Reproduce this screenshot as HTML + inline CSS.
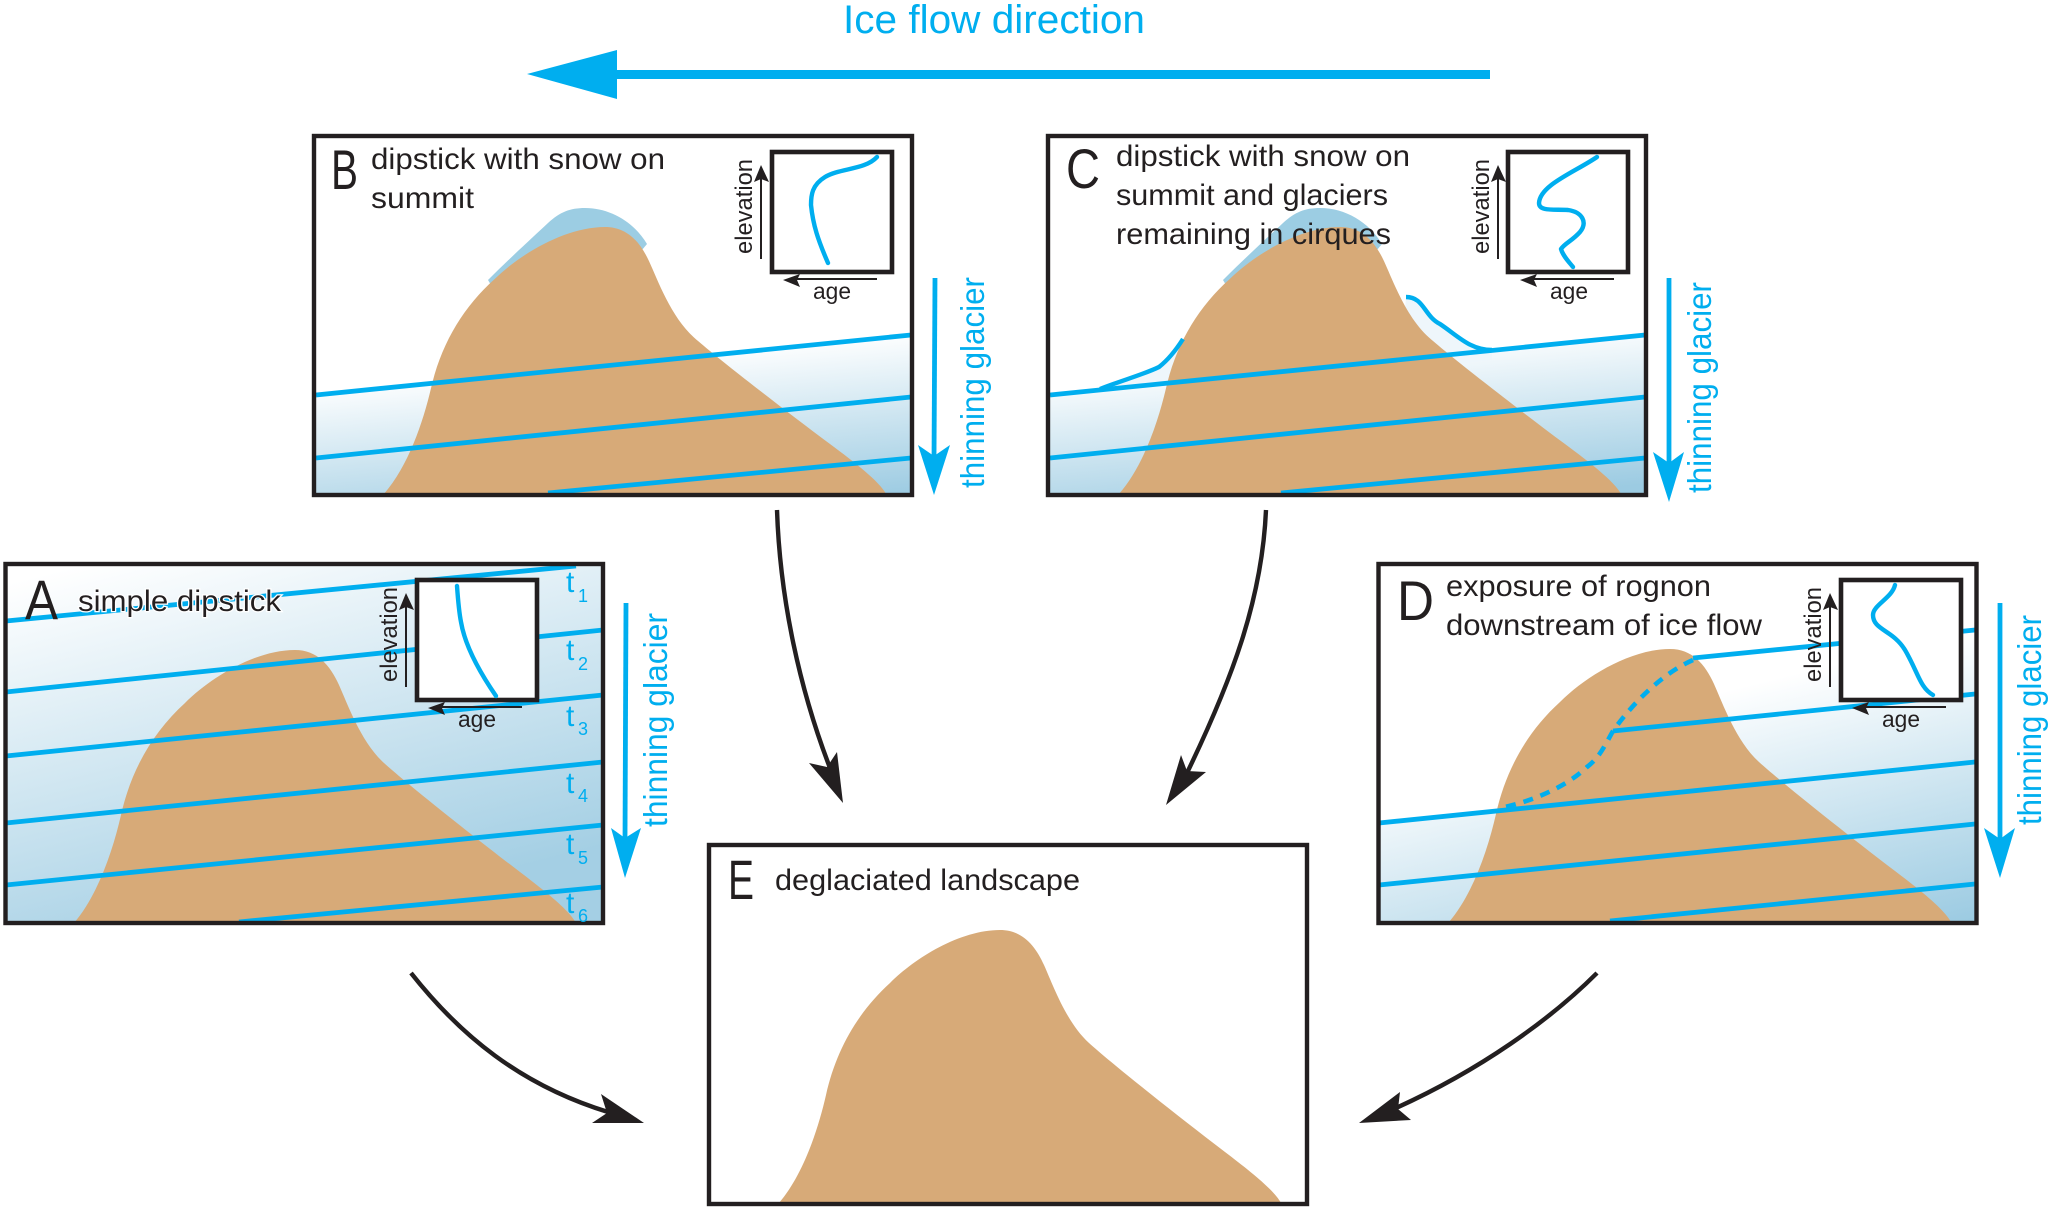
<!DOCTYPE html>
<html>
<head>
<meta charset="utf-8">
<title>Ice flow diagram</title>
<style>
html,body{margin:0;padding:0;background:#fff;width:2050px;height:1209px;overflow:hidden}
svg{display:block}
text{font-family:"Liberation Sans",sans-serif;fill:#231f20}
.b{fill:#00aeef}
.l{stroke:#00aeef;stroke-width:4.8;fill:none}
.c{stroke:#00aeef;stroke-width:4.4;fill:none;stroke-linecap:round;stroke-linejoin:round}
.k{stroke:#231f20;stroke-width:4.4;fill:none}
.a{stroke:#231f20;stroke-width:2;fill:none}
.m{fill:#d7aa78}
</style>
</head>
<body>
<svg width="2050" height="1209" viewBox="0 0 2050 1209" xmlns="http://www.w3.org/2000/svg">
<defs>
<linearGradient id="gA" gradientUnits="userSpaceOnUse" x1="100" y1="560" x2="200" y2="950"><stop offset="0" stop-color="#fff"/><stop offset="1" stop-color="#a4cfe4"/></linearGradient>
<linearGradient id="gB" gradientUnits="userSpaceOnUse" x1="316" y1="385" x2="331" y2="548"><stop offset="0" stop-color="#fff"/><stop offset="1" stop-color="#9ccbe2"/></linearGradient>
<linearGradient id="gC" gradientUnits="userSpaceOnUse" x1="1050" y1="375" x2="1065" y2="538"><stop offset="0" stop-color="#fff"/><stop offset="1" stop-color="#9ccbe2"/></linearGradient>
<linearGradient id="gD" gradientUnits="userSpaceOnUse" x1="1970" y1="631" x2="2037" y2="904"><stop offset="0" stop-color="#fff"/><stop offset="1" stop-color="#9ccbe2"/></linearGradient>
<path id="mt" d="M779 1203C803 1175 818 1130 826 1095C836 1050 858 1012 890 983C915 958 960 930 1000 930C1022 930 1035 945 1044 965C1053 985 1066 1022 1089 1043C1110 1062 1170 1110 1225 1152C1250 1171 1274 1190 1281 1203Z"/>
</defs>
<rect width="2050" height="1209" fill="#fff"/>

<!-- top arrow -->
<text x="843" y="33" font-size="40" style="fill:#00aeef" textLength="302" lengthAdjust="spacingAndGlyphs">Ice flow direction</text>
<rect class="b" x="610" y="70" width="880" height="9"/>
<polygon class="b" points="527,74 617,50 617,99"/>

<!-- PANEL A -->
<rect x="6" y="565" width="597" height="358" fill="url(#gA)"/>
<use href="#mt" class="m" transform="translate(-705,-280)"/>
<g class="l">
<line x1="6" y1="621" x2="576" y2="566"/>
<line x1="6" y1="692" x2="603" y2="630"/>
<line x1="6" y1="756" x2="603" y2="695"/>
<line x1="6" y1="823" x2="603" y2="762"/>
<line x1="6" y1="885" x2="603" y2="825"/>
<line x1="239" y1="922" x2="603" y2="887"/>
</g>
<rect class="k" x="5.5" y="564" width="597.5" height="359"/>
<g style="font-size:30px">
<text x="566" y="592" style="fill:#00aeef">t</text><text x="578" y="602" font-size="18" style="fill:#00aeef">1</text>
<text x="566" y="660" style="fill:#00aeef">t</text><text x="578" y="670" font-size="18" style="fill:#00aeef">2</text>
<text x="566" y="726" style="fill:#00aeef">t</text><text x="578" y="735" font-size="18" style="fill:#00aeef">3</text>
<text x="566" y="793" style="fill:#00aeef">t</text><text x="578" y="802" font-size="18" style="fill:#00aeef">4</text>
<text x="566" y="854" style="fill:#00aeef">t</text><text x="578" y="864" font-size="18" style="fill:#00aeef">5</text>
<text x="566" y="913" style="fill:#00aeef">t</text><text x="578" y="922" font-size="18" style="fill:#00aeef">6</text>
</g>
<text x="25" y="619" font-size="56" textLength="33" lengthAdjust="spacingAndGlyphs">A</text>
<text x="78" y="611" font-size="30" textLength="203" lengthAdjust="spacingAndGlyphs" style="stroke:#fff;stroke-width:2.5;paint-order:stroke">simple dipstick</text>

<!-- inset A -->
<g>
<rect x="417" y="580" width="120" height="120" fill="#fff" stroke="#231f20" stroke-width="4.6"/>
<path class="c" d="M457 586C458 600 459 612 461 622C464 640 474 664 496 696"/>
<line class="a" x1="406" y1="687" x2="406" y2="605"/><polygon fill="#231f20" points="406,593 414,610 406,607 399,610"/>
<line class="a" x1="522" y1="707" x2="440" y2="707"/><polygon fill="#231f20" points="428,708 445,702 442,708 445,715"/>
<text x="458" y="727" font-size="23" textLength="38" lengthAdjust="spacingAndGlyphs">age</text>
<text transform="translate(397,682) rotate(-90)" font-size="24" textLength="95" lengthAdjust="spacingAndGlyphs">elevation</text>
</g>
<!-- thin A -->
<line class="l" x1="626" y1="603" x2="625" y2="840"/>
<polygon class="b" points="611,828 625,838 641,828 625,878"/>
<text transform="translate(667,827) rotate(-90)" font-size="33" style="fill:#00aeef" textLength="214" lengthAdjust="spacingAndGlyphs">thinning glacier</text>

<!-- PANEL B -->
<polygon points="316,395 911,335 911,494 316,494" fill="url(#gB)"/>
<path d="M488 280C510 258 532 238 548 223C560 212 570 208 585 208C610 208 634 222 647 244L600 300L500 300Z" fill="#9ccde3"/>
<use href="#mt" class="m" transform="translate(-395,-682.6) scale(1,.978)"/>
<g class="l">
<line x1="316" y1="395" x2="911" y2="335"/>
<line x1="316" y1="458" x2="911" y2="397"/>
<line x1="548" y1="493" x2="911" y2="458"/>
</g>
<rect class="k" x="314" y="136" width="598" height="359"/>
<text x="331" y="189" font-size="56" textLength="27" lengthAdjust="spacingAndGlyphs">B</text>
<text x="371" y="169" font-size="30" textLength="294" lengthAdjust="spacingAndGlyphs">dipstick with snow on</text>
<text x="371" y="208" font-size="30" textLength="103" lengthAdjust="spacingAndGlyphs">summit</text>
<g transform="translate(355,-428)">
<rect x="417" y="580" width="120" height="120" fill="#fff" stroke="#231f20" stroke-width="4.6"/>
<line class="a" x1="406" y1="687" x2="406" y2="605"/><polygon fill="#231f20" points="406,593 414,610 406,607 399,610"/>
<line class="a" x1="522" y1="707" x2="440" y2="707"/><polygon fill="#231f20" points="428,708 445,702 442,708 445,715"/>
<text x="458" y="727" font-size="23" textLength="38" lengthAdjust="spacingAndGlyphs">age</text>
<text transform="translate(397,682) rotate(-90)" font-size="24" textLength="95" lengthAdjust="spacingAndGlyphs">elevation</text>
</g>
<path class="c" d="M877 157C865 170 840 168 825 177C812 185 811 195 811 205C813 225 818 240 828 263"/>
<line class="l" x1="935" y1="278" x2="934" y2="460"/>
<polygon class="b" points="918,445 934,456 950,445 934,495"/>
<text transform="translate(984,488) rotate(-90)" font-size="33" style="fill:#00aeef" textLength="211" lengthAdjust="spacingAndGlyphs">thinning glacier</text>

<!-- PANEL C -->
<polygon points="1050,395 1645,335 1645,494 1050,494" fill="url(#gC)"/>
<path d="M1100 389C1120 381 1145 374 1159 367C1168 360 1176 350 1183 339L1183 385Z" fill="#eef6fb"/>
<path d="M1406 297C1424 297 1424 316 1440 324C1458 336 1470 350 1492 350L1492 360L1400 370Z" fill="#eef6fb"/>
<path d="M1223 280C1245 258 1267 238 1283 223C1295 212 1305 208 1320 208C1345 208 1369 222 1382 244L1335 300L1235 300Z" fill="#9ccde3"/>
<use href="#mt" class="m" transform="translate(340,-682.6) scale(1,.978)"/>
<path class="c" style="stroke-linecap:butt" d="M1100 389C1120 381 1145 374 1159 367C1168 360 1176 350 1183 339"/>
<path class="c" style="stroke-linecap:butt" d="M1406 297C1424 297 1424 316 1440 324C1458 336 1470 350 1492 350"/>
<g class="l">
<line x1="1050" y1="395" x2="1645" y2="335"/>
<line x1="1050" y1="458" x2="1645" y2="397"/>
<line x1="1281" y1="493" x2="1645" y2="458"/>
</g>
<rect class="k" x="1048" y="136" width="598" height="359"/>
<text x="1066" y="188" font-size="56" textLength="34" lengthAdjust="spacingAndGlyphs">C</text>
<text x="1116" y="166" font-size="30" textLength="294" lengthAdjust="spacingAndGlyphs">dipstick with snow on</text>
<text x="1116" y="205" font-size="30" textLength="272" lengthAdjust="spacingAndGlyphs">summit and glaciers</text>
<text x="1116" y="244" font-size="30" textLength="275" lengthAdjust="spacingAndGlyphs">remaining in cirques</text>
<g transform="translate(1092,-428)">
<rect x="416" y="580" width="120" height="120" fill="#fff" stroke="#231f20" stroke-width="4.6"/>
<line class="a" x1="406" y1="687" x2="406" y2="605"/><polygon fill="#231f20" points="406,593 414,610 406,607 399,610"/>
<line class="a" x1="522" y1="707" x2="440" y2="707"/><polygon fill="#231f20" points="428,708 445,702 442,708 445,715"/>
<text x="458" y="727" font-size="23" textLength="38" lengthAdjust="spacingAndGlyphs">age</text>
<text transform="translate(397,682) rotate(-90)" font-size="24" textLength="95" lengthAdjust="spacingAndGlyphs">elevation</text>
</g>
<path class="c" d="M1597 157C1575 172 1540 185 1539 203C1539 212 1555 209 1568 210C1582 212 1588 222 1580 232C1572 241 1565 243 1561 249C1563 256 1569 262 1573 267"/>
<line class="l" x1="1669" y1="278" x2="1669" y2="465"/>
<polygon class="b" points="1653,452 1669,463 1684,452 1669,502"/>
<text transform="translate(1711,493) rotate(-90)" font-size="33" style="fill:#00aeef" textLength="211" lengthAdjust="spacingAndGlyphs">thinning glacier</text>

<!-- PANEL D -->
<polygon points="1380,823 1500,811 1693,658 1975,630 1975,921 1380,921" fill="url(#gD)"/>
<use href="#mt" class="m" transform="translate(670,-281)"/>
<g class="l">
<line x1="1693" y1="658" x2="1975" y2="630"/>
<line x1="1613" y1="731" x2="1975" y2="694"/>
<line x1="1379" y1="823" x2="1975" y2="762"/>
<line x1="1379" y1="885" x2="1975" y2="824"/>
<line x1="1610" y1="921" x2="1975" y2="884"/>
</g>
<path d="M1693 660C1665 672 1635 700 1613 731C1605 745 1600 757 1587 767C1565 788 1530 802 1500 808" fill="none" stroke="#00aeef" stroke-width="4.6" stroke-dasharray="10 8"/>
<rect class="k" x="1378.5" y="564" width="598" height="359"/>
<text x="1397" y="620" font-size="56" textLength="37" lengthAdjust="spacingAndGlyphs">D</text>
<text x="1446" y="596" font-size="30" textLength="265" lengthAdjust="spacingAndGlyphs">exposure of rognon</text>
<text x="1446" y="635" font-size="30" textLength="316" lengthAdjust="spacingAndGlyphs">downstream of ice flow</text>
<g transform="translate(1424,0)">
<rect x="417" y="580" width="120" height="120" fill="#fff" stroke="#231f20" stroke-width="4.6"/>
<line class="a" x1="406" y1="687" x2="406" y2="605"/><polygon fill="#231f20" points="406,593 414,610 406,607 399,610"/>
<line class="a" x1="522" y1="707" x2="440" y2="707"/><polygon fill="#231f20" points="428,708 445,702 442,708 445,715"/>
<text x="458" y="727" font-size="23" textLength="38" lengthAdjust="spacingAndGlyphs">age</text>
<text transform="translate(397,682) rotate(-90)" font-size="24" textLength="95" lengthAdjust="spacingAndGlyphs">elevation</text>
</g>
<path class="c" d="M1895 585C1892 598 1873 605 1873 615C1873 630 1893 630 1905 650C1918 672 1920 688 1933 695"/>
<line class="l" x1="2000" y1="603" x2="2000" y2="840"/>
<polygon class="b" points="1984,828 2000,839 2015,828 2000,878"/>
<text transform="translate(2041,825) rotate(-90)" font-size="33" style="fill:#00aeef" textLength="210" lengthAdjust="spacingAndGlyphs">thinning glacier</text>

<!-- PANEL E -->
<use href="#mt" class="m"/>
<rect class="k" x="709" y="845" width="598" height="359"/>
<text x="728" y="899" font-size="56" textLength="26" lengthAdjust="spacingAndGlyphs">E</text>
<text x="775" y="890" font-size="30" textLength="305" lengthAdjust="spacingAndGlyphs">deglaciated landscape</text>

<!-- curved arrows -->
<g fill="none" stroke="#231f20" stroke-width="4.4">
<path d="M777 510C780 600 800 690 830 768"/>
<path d="M1266 510C1262 600 1232 680 1186 775"/>
<path d="M411 973C460 1035 520 1085 608 1112"/>
<path d="M1597 973C1550 1020 1480 1070 1396 1108"/>
</g>
<g fill="#231f20">
<polygon points="843,803 809,763 827,767 837,752"/>
<polygon points="1166,805 1181,755 1187,771 1206,772"/>
<polygon points="644,1123 601,1094 607,1113 592,1123"/>
<polygon points="1359,1123 1400,1092 1398,1109 1411,1120"/>
</g>
</svg>
</body>
</html>
